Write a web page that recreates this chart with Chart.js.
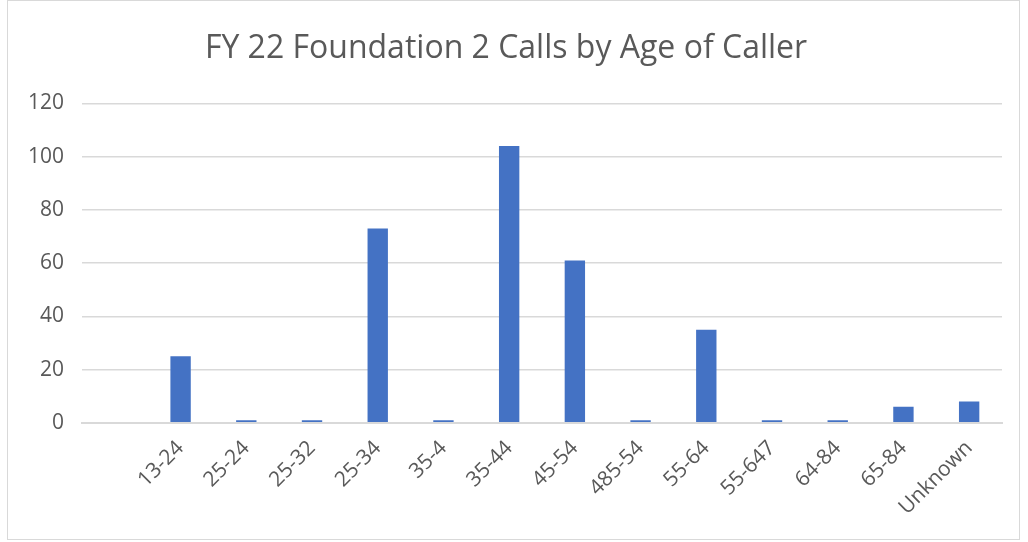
<!DOCTYPE html>
<html>
<head>
<meta charset="utf-8">
<script src="https://cdn.jsdelivr.net/npm/chart.js@4"></script>
<style>
    html, body { margin: 0; padding: 0; background: #ffffff; }
    #wrap { position: relative; width: 1028px; height: 542px; }
    #frame { position: absolute; left: 7px; top: 0; width: 1013px; height: 540px; border: 1px solid #d9d9d9; box-sizing: border-box; pointer-events: none; }
</style>
</head>
<body>
<div id="wrap">
    <canvas id="grafico" width="1028" height="542"></canvas>
    <div id="frame"></div>
</div>
<script>
// categorias (a primeira vem vazia no original)
const faixas = ["", "13-24", "25-24", "25-32", "25-34", "35-4", "35-44", "45-54", "485-54", "55-64", "55-647", "64-84", "65-84", "Unknown"];
const chamadas = [null, 25, 1, 1, 73, 1, 104, 61, 1, 35, 1, 1, 6, 8];
const ticksY = [0, 20, 40, 60, 80, 100, 120];

const corTexto = "#595959";
const fonte = "'Open Sans', 'Liberation Sans', sans-serif";

const ctx = document.getElementById("grafico").getContext("2d");

new Chart(ctx, {
    type: "bar",
    data: {
        labels: faixas,
        datasets: [{
            label: "Calls",
            data: chamadas,
            backgroundColor: "#4472c4",
            borderColor: "#4472c4",
            borderWidth: 0,
            barPercentage: 0.31,
            categoryPercentage: 1
        }]
    },
    options: {
        responsive: false,
        animation: false,
        layout: {
            padding: { left: 10, right: 26, top: 18, bottom: 9 }
        },
        plugins: {
            legend: { display: false },
            tooltip: { enabled: false },
            title: {
                display: true,
                text: "FY 22 Foundation 2 Calls by Age of Caller",
                color: corTexto,
                font: { family: fonte, size: 32, weight: "normal" },
                padding: { top: 12, bottom: 35 }
            }
        },
        scales: {
            x: {
                grid: { display: false, drawTicks: false },
                border: { display: true, color: "#d9d9d9", width: 2 },
                ticks: {
                    color: corTexto,
                    font: { family: fonte, size: 21 },
                    minRotation: 45,
                    maxRotation: 45,
                    padding: 13
                }
            },
            y: {
                min: 0,
                max: 120,
                afterBuildTicks: axis => {
                    axis.ticks = ticksY.map(v => ({ value: v }));
                },
                grid: { color: "#d9d9d9", lineWidth: 1.5, drawTicks: false },
                border: { display: false },
                ticks: {
                    color: corTexto,
                    font: { family: fonte, size: 21 },
                    padding: 18
                }
            }
        }
    }
});
</script>
</body>
</html>
